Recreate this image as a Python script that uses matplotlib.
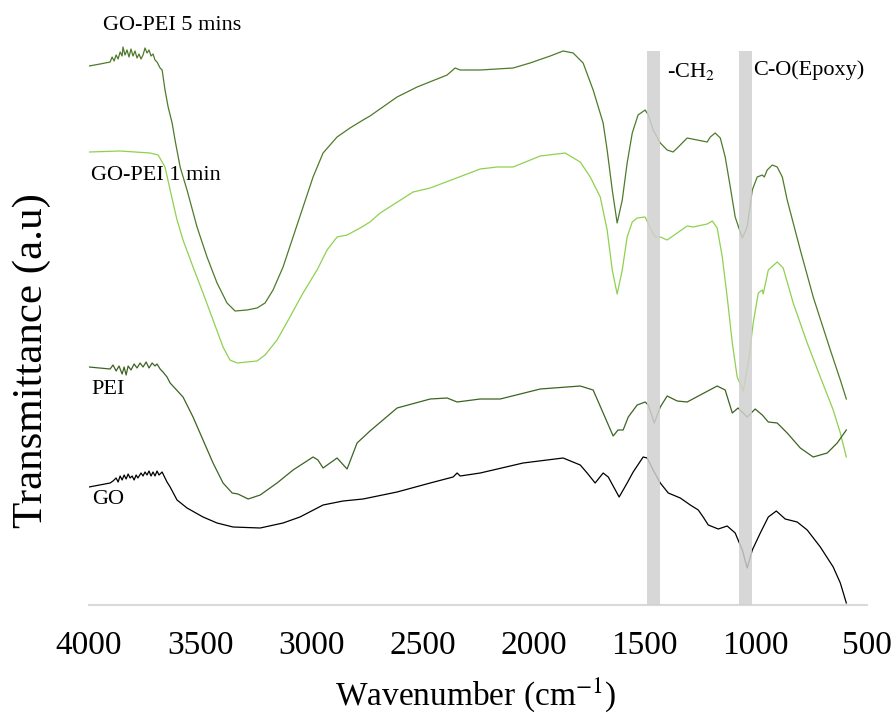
import matplotlib
matplotlib.use("Agg")
import matplotlib.pyplot as plt

plt.rcParams['font.family'] = ['Liberation Serif', 'DejaVu Serif']
plt.rcParams['mathtext.fontset'] = 'stix'

# GO-PEI 5 mins
wn_5min = [4000, 3950, 3905, 3896, 3887, 3878, 3869, 3860, 3851, 3847, 3838, 3829, 3820, 3811,
           3802, 3793, 3784, 3775, 3766, 3757, 3748, 3739, 3730, 3721, 3712, 3703, 3694, 3680,
           3671, 3658, 3644, 3626, 3613, 3590, 3559, 3514, 3469, 3424, 3379, 3343, 3289, 3244,
           3208, 3172, 3127, 3082, 3037, 2992, 2947, 2884, 2826, 2767, 2736, 2614, 2524, 2389,
           2353, 2330, 2240, 2092, 2016, 1925, 1867, 1822, 1777, 1732, 1687, 1669, 1646, 1624,
           1601, 1579, 1556, 1530, 1498, 1484, 1462, 1430, 1399, 1372, 1340, 1309, 1264, 1219,
           1205, 1183, 1160, 1138, 1115, 1093, 1061, 1039, 1016, 994, 971, 962, 949, 926, 904,
           881, 859, 800, 742, 665, 620, 593]
t_5min = [53.9, 54.1, 54.3, 54.8, 54.4, 55.0, 54.6, 55.3, 54.9, 55.8, 55.0, 55.5, 54.8, 55.6,
          54.9, 55.4, 54.7, 55.1, 54.6, 55.0, 55.7, 55.2, 55.5, 54.9, 55.1, 54.5, 54.3, 53.7,
          53.5, 51.5, 49.8, 48.2, 46.5, 43.8, 41.5, 37.8, 34.8, 32.2, 30.2, 29.4, 29.5, 29.7,
          30.2, 31.5, 33.8, 36.8, 39.8, 42.8, 45.2, 46.8, 47.7, 48.5, 48.9, 50.8, 51.8, 53.0,
          53.7, 53.5, 53.5, 53.7, 54.2, 54.9, 55.4, 55.2, 54.2, 51.5, 48.2, 45.5, 41.5, 38.2,
          40.5, 44.2, 47.2, 49.0, 49.5, 49.0, 47.5, 46.2, 45.5, 45.3, 46.0, 46.7, 46.5, 46.3,
          46.8, 47.2, 46.7, 44.8, 41.8, 38.8, 36.7, 37.8, 41.5, 42.8, 43.0, 42.8, 43.5, 44.0, 43.8,
          42.8, 40.5, 35.5, 30.8, 25.5, 22.5, 20.6]

# GO-PEI 1 min
wn_1min = [4000, 3860, 3725, 3689, 3658, 3635, 3604, 3577, 3532, 3487, 3442, 3397, 3366, 3334,
           3244, 3208, 3154, 3096, 3037, 2974, 2929, 2884, 2839, 2780, 2736, 2690, 2542, 2465,
           2240, 2164, 2092, 1970, 1858, 1790, 1745, 1700, 1669, 1646, 1624, 1601, 1579, 1556,
           1534, 1498, 1475, 1453, 1430, 1399, 1354, 1309, 1282, 1219, 1196, 1174, 1151, 1129,
           1106, 1084, 1057, 1034, 1012, 989, 971, 967, 944, 904, 877, 832, 769, 710, 652, 620, 593]
t_1min = [45.3, 45.4, 45.2, 45.0, 43.8, 41.5, 38.5, 36.5, 33.8, 31.2, 28.5, 25.8, 24.5, 24.2,
          24.4, 25.0, 26.5, 28.8, 31.2, 33.5, 35.5, 36.8, 37.0, 37.7, 38.3, 39.2, 41.3, 41.7,
          43.6, 43.8, 43.8, 44.9, 45.2, 44.3, 42.8, 40.8, 37.5, 33.5, 31.1, 33.5, 36.8, 38.3,
          38.7, 38.8, 37.7, 36.8, 36.8, 36.5, 37.2, 37.9, 37.8, 38.1, 38.4, 37.7, 34.8, 30.8,
          26.2, 22.8, 21.4, 24.2, 28.2, 31.2, 31.5, 31.1, 33.5, 34.3, 33.7, 30.2, 26.2, 22.8, 19.5, 17.2, 14.8]

# PEI
wn_pei = [4000, 3905, 3892, 3878, 3865, 3851, 3842, 3833, 3824, 3811, 3797, 3784, 3770, 3757,
          3743, 3730, 3716, 3703, 3694, 3680, 3667, 3649, 3635, 3577, 3532, 3487, 3442, 3397,
          3356, 3330, 3284, 3230, 3154, 3082, 2992, 2970, 2947, 2884, 2839, 2794, 2736, 2614,
          2465, 2389, 2344, 2240, 2150, 1970, 1790, 1732, 1687, 1642, 1620, 1597, 1574, 1534,
          1498, 1484, 1457, 1430, 1399, 1354, 1309, 1250, 1174, 1138, 1106, 1080, 1039, 1003,
          971, 944, 904, 859, 800, 742, 679, 634, 593]
t_pei = [23.8, 23.6, 24.0, 23.4, 23.9, 23.1, 23.8, 23.0, 23.9, 23.5, 24.1, 23.7, 24.2, 23.8,
         24.3, 23.7, 24.2, 23.9, 24.1, 23.6, 23.3, 22.8, 22.2, 20.8, 18.8, 16.5, 14.2, 12.2,
         11.2, 11.1, 10.6, 11.0, 12.2, 13.5, 14.8, 14.5, 13.7, 14.7, 13.6, 16.2, 17.4, 19.7,
         20.6, 20.7, 20.3, 20.6, 20.6, 21.6, 21.9, 21.5, 19.2, 16.9, 17.5, 17.5, 18.8, 20.0,
         20.3, 20.0, 18.2, 19.8, 20.9, 20.4, 20.3, 21.0, 21.9, 21.5, 19.2, 19.7, 18.8, 19.6,
         19.0, 18.3, 18.2, 17.2, 15.7, 14.8, 15.2, 16.2, 17.5]

# GO
wn_go = [4000, 3905, 3892, 3878, 3869, 3860, 3851, 3842, 3833, 3824, 3815, 3806, 3797, 3788,
         3780, 3766, 3757, 3748, 3739, 3730, 3721, 3712, 3703, 3694, 3685, 3671, 3658, 3649,
         3635, 3604, 3559, 3487, 3424, 3352, 3230, 3127, 3051, 2947, 2857, 2767, 2614, 2465,
         2362, 2344, 2330, 2240, 2047, 1867, 1790, 1759, 1723, 1687, 1664, 1615, 1579, 1552,
         1507, 1489, 1462, 1430, 1394, 1340, 1295, 1259, 1237, 1214, 1169, 1129, 1093, 1061,
         1039, 1016, 980, 944, 908, 868, 814, 769, 710, 652, 620, 593]
t_go = [11.8, 12.2, 12.4, 12.7, 12.3, 12.9, 12.5, 13.0, 12.6, 13.1, 12.7, 12.9, 12.5, 13.0,
        12.7, 13.2, 12.9, 13.3, 13.0, 13.4, 12.9, 13.3, 12.9, 13.4, 13.0, 13.3, 12.7, 12.3,
        11.8, 10.5, 9.7, 8.8, 8.2, 7.8, 7.7, 8.2, 8.8, 10.0, 10.4, 10.6, 11.3, 12.2,
        12.8, 13.2, 12.9, 13.2, 14.2, 14.7, 14.0, 13.2, 12.2, 13.2, 12.8, 10.8, 12.2, 13.3,
        14.8, 14.7, 13.5, 12.2, 11.2, 10.7, 10.0, 9.5, 8.8, 8.0, 7.6, 7.9, 7.2, 5.5,
        3.7, 5.5, 7.2, 8.8, 9.4, 8.6, 8.3, 7.5, 5.8, 3.8, 2.2, 0.2]

series = [
    ("GO-PEI 5 mins", wn_5min, t_5min, "#4f7a2a"),
    ("GO-PEI 1 min", wn_1min, t_1min, "#8fd14f"),
    ("PEI", wn_pei, t_pei, "#3d6323"),
    ("GO", wn_go, t_go, "#000000"),
]

# marked bands (cm-1) and their labels
bands = [(1431, 1490), (1017, 1076)]
band_top = 55.4
band_labels = [("-CH$_2$", 1399, 53.3), ("C-O(Epoxy)", 1012, 53.5)]

# curve labels: text, wavenumber, level
curve_labels = [("GO-PEI 5 mins", 3937, 58.0), ("GO-PEI 1 min", 3991, 42.9),
                ("PEI", 3991, 21.5), ("GO", 3986, 10.6)]

fig = plt.figure(figsize=(8.96, 7.18), dpi=100)
ax = fig.add_axes([89 / 896, 113 / 718, 778 / 896, 565 / 718])

for name, x, y, c in series:
    ax.plot(x, y, color=c, lw=0.9)

for lo, hi in bands:
    ax.fill_betweenx([0, band_top], lo, hi, color="#d0d0d0", alpha=0.85, lw=0, zorder=3)

for txt, x, y in band_labels + curve_labels:
    ax.text(x, y, txt, fontsize=16, ha="left", va="center", zorder=4)

ax.set_xlim(4000, 500)
ax.set_ylim(0, 56.5)
ax.set_xticks([4000, 3500, 3000, 2500, 2000, 1500, 1000, 500])
ax.set_yticks([])
ax.tick_params(axis="x", length=0, pad=18, labelsize=24)
for s in ["top", "right", "left"]:
    ax.spines[s].set_visible(False)
ax.spines["bottom"].set_color("#d9d9d9")
ax.spines["bottom"].set_linewidth(1.5)

ax.set_xlabel("Wavenumber (cm$^{-1}$)", fontsize=24)
ax.xaxis.set_label_coords(0.497, -0.125)
ax.set_ylabel("Transmittance (a.u)", fontsize=31)
ax.yaxis.set_label_coords(-0.049, 0.432)

fig.savefig("out.png", dpi=100)
